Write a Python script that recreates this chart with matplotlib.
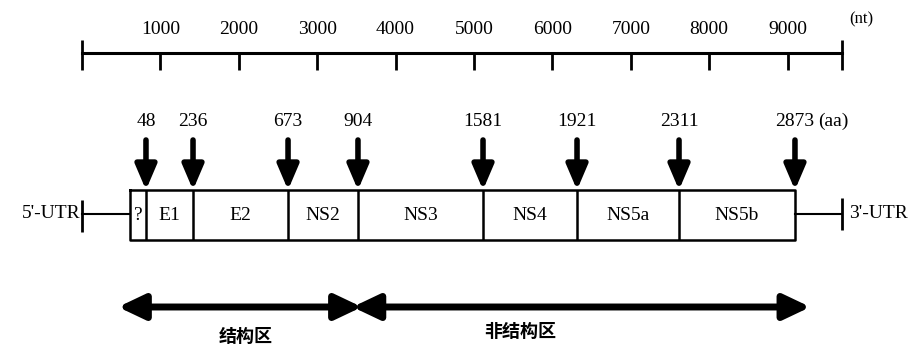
import matplotlib
matplotlib.use('Agg')
import matplotlib.pyplot as plt

# nt scale on top
nt_ticks = [1000, 2000, 3000, 4000, 5000, 6000, 7000, 8000, 9000]
genome_len = 9700

# cleavage sites (aa) and where they sit on the schematic (nt units)
aa_sites = [48, 236, 673, 904, 1581, 1921, 2311, 2873]
site_pos = [816, 1416, 2628, 3520, 5115, 6314, 7615, 9094]
orf_start = 612
genes = ['?', 'E1', 'E2', 'NS2', 'NS3', 'NS4', 'NS5a', 'NS5b']

# structural / non-structural regions
regions = ['结构区', '非结构区']
region_bounds = [(460, 3570), (3450, 9290)]

serif = 'Liberation Serif'
cjk = ['Noto Sans CJK SC', 'DejaVu Sans']

fig = plt.figure(figsize=(9.18, 3.49), dpi=100)
ax = fig.add_axes([0, 0, 1, 1])
px = 0.0784  # px per nt
ax.set_xlim(-82 / px, (918 - 82) / px)
ax.set_ylim(349, 0)
ax.axis('off')

# top scale
ax.plot([0, genome_len], [53, 53], color='black', lw=2.2)
ax.vlines([0, genome_len], 40, 70, color='black', lw=2)
ax.vlines(nt_ticks, 53, 70, color='black', lw=2)
for t in nt_ticks:
    ax.text(t, 30, str(t), ha='center', va='center', fontsize=14, family=serif)
ax.text(genome_len + 90, 19, '(nt)', ha='left', va='center', fontsize=12, family=serif)

# genome box
box_top, box_bot = 190, 240
edges = [orf_start] + site_pos
ax.plot([orf_start, site_pos[-1], site_pos[-1], orf_start, orf_start],
        [box_top, box_top, box_bot, box_bot, box_top], color='black', lw=1.8)
ax.vlines(site_pos[:-1], box_top, box_bot, color='black', lw=1.8)
for i, g in enumerate(genes):
    ax.text((edges[i] + edges[i + 1]) / 2, 215, g, ha='center', va='center',
            fontsize=14, family=serif)

# UTRs
ax.plot([0, orf_start], [214, 214], color='black', lw=1.5)
ax.vlines(0, 200, 232, color='black', lw=2)
ax.text(-20, 214, "5'-UTR", ha='right', va='center', fontsize=14, family=serif)
ax.plot([site_pos[-1], genome_len], [214, 214], color='black', lw=1.5)
ax.vlines(genome_len, 198, 230, color='black', lw=2)
ax.text(genome_len + 90, 214, "3'-UTR", ha='left', va='center', fontsize=14, family=serif)

# cleavage arrows
for a, x in zip(aa_sites, site_pos):
    ax.annotate('', xy=(x, box_top), xytext=(x, 140),
                arrowprops=dict(arrowstyle='-|>,head_length=0.75,head_width=0.32',
                                lw=4, color='black', shrinkA=0, shrinkB=0,
                                mutation_scale=20))
    ax.text(x, 121, str(a), ha='center', va='center', fontsize=14, family=serif)
ax.text(site_pos[-1] + 300, 121, '(aa)', ha='left', va='center', fontsize=14, family=serif)

# region arrows
for (x0, x1) in region_bounds:
    ax.annotate('', xy=(x1, 307), xytext=(x0, 307),
                arrowprops=dict(arrowstyle='<|-|>,head_length=0.8,head_width=0.38',
                                lw=5, color='black', shrinkA=0, shrinkB=0,
                                mutation_scale=20))
ax.text(2090, 336, regions[0], ha='center', va='center', fontsize=13,
        family=cjk, fontweight='bold')
ax.text(5590, 331, regions[1], ha='center', va='center', fontsize=13,
        family=cjk, fontweight='bold')

plt.savefig('out.png', dpi=100)
plt.close()
